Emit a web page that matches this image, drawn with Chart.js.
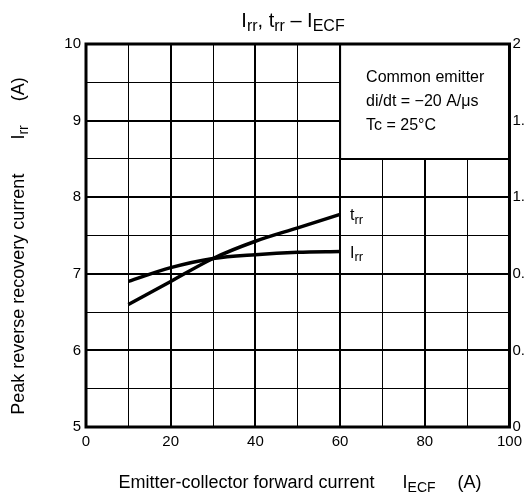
<!DOCTYPE html>
<html>
<head>
<meta charset="utf-8">
<script src="https://cdn.jsdelivr.net/npm/chart.js@4.4.1/dist/chart.umd.min.js"></script>
<style>
  html, body { margin: 0; padding: 0; background: #fff; }
  #wrap { width: 528px; height: 502px; position: relative; }
</style>
</head>
<body>
<div id="wrap"><canvas id="chart"></canvas></div>
<script>
// Irr, trr - IECF curves
const currents = [10, 20, 30, 40, 50, 60];          // IECF (A)
const irrValues = [6.9, 7.08, 7.2, 7.25, 7.28, 7.29]; // Irr (A), left axis
const trrValues = [0.64, 0.76, 0.88, 0.97, 1.04, 1.11]; // trr (us), right axis
const conditions = ['Common emitter', 'di/dt = \u221220 A/\u03bcs', 'Tc = 25\u00b0C'];

const FONT = 'Arial, "Liberation Sans", Helvetica, sans-serif';

// draws text pieces with subscripts, left aligned at baseline y; returns width
function drawRich(ctx, parts, x, y, size, measureOnly) {
    let cx = x;
    parts.forEach(p => {
        if (p.gap) { cx += p.gap; return; }
        const fs = p.sub ? Math.round(size * 0.8) : size;
        ctx.font = fs + 'px ' + FONT;
        if (!measureOnly) ctx.fillText(p.t, cx, p.sub ? y + size * 0.2 : y);
        cx += ctx.measureText(p.t).width;
    });
    return cx - x;
}

const overlay = {
    id: 'overlay',
    beforeDatasetsDraw(chart) {
        const { ctx, chartArea: a, scales: { x, y } } = chart;
        // condition box hides the grid in the top right corner
        const bx = x.getPixelForValue(60), by = y.getPixelForValue(8.5);
        ctx.save();
        ctx.fillStyle = '#fff';
        ctx.fillRect(bx, a.top, a.right - bx, by - a.top);
        ctx.strokeStyle = '#000';
        ctx.lineWidth = 2;
        ctx.beginPath();
        ctx.moveTo(bx, a.top);
        ctx.lineTo(bx, by);
        ctx.lineTo(a.right, by);
        ctx.stroke();
        ctx.fillStyle = '#000';
        ctx.font = '16px ' + FONT;
        ctx.textBaseline = 'middle';
        conditions.forEach((t, i) => ctx.fillText(t, bx + 26, a.top + 34 + i * 24));
        ctx.restore();
    },
    afterDraw(chart) {
        const { ctx, chartArea: a, scales: { x, y, y2 } } = chart;
        ctx.save();
        ctx.strokeStyle = '#000';
        ctx.lineWidth = 3;
        ctx.strokeRect(a.left, a.top, a.right - a.left, a.bottom - a.top);

        ctx.fillStyle = '#000';
        ctx.textBaseline = 'alphabetic';

        // curve labels
        const lx = x.getPixelForValue(60) + 10;
        drawRich(ctx, [{ t: 't' }, { t: 'rr', sub: true }], lx,
            y2.getPixelForValue(trrValues[trrValues.length - 1]) + 6, 16);
        drawRich(ctx, [{ t: 'I' }, { t: 'rr', sub: true }], lx,
            y.getPixelForValue(irrValues[irrValues.length - 1]) + 6, 16);

        // title
        const title = [{ t: 'I' }, { t: 'rr', sub: true }, { t: ', t' }, { t: 'rr', sub: true },
            { t: ' \u2013 I' }, { t: 'ECF', sub: true }];
        const tw = drawRich(ctx, title, 0, 0, 20, true);
        drawRich(ctx, title, 293 - tw / 2, 27, 20);

        // x axis title
        const xt = [{ t: 'Emitter-collector forward current' }, { gap: 28 }, { t: 'I' },
            { t: 'ECF', sub: true }, { gap: 22 }, { t: '(A)' }];
        const xw = drawRich(ctx, xt, 0, 0, 18, true);
        drawRich(ctx, xt, 300 - xw / 2, 488, 18);

        // y axis title
        const yt = [{ t: 'Peak reverse recovery current' }, { gap: 34 }, { t: 'I' },
            { t: 'rr', sub: true }, { gap: 24 }, { t: '(A)' }];
        const yw = drawRich(ctx, yt, 0, 0, 18, true);
        ctx.translate(24, 246 + yw / 2);
        ctx.rotate(-Math.PI / 2);
        drawRich(ctx, yt, 0, 0, 18);
        ctx.restore();
    }
};

const gridWidth = major => c => (Math.abs(c.tick.value % major) < 1e-6 ? 2 : 1);

new Chart(document.getElementById('chart'), {
    type: 'line',
    data: {
        datasets: [
            {
                label: 'trr',
                data: currents.map((c, i) => ({ x: c, y: trrValues[i] })),
                yAxisID: 'y2',
                borderColor: '#000',
                borderWidth: 3.5,
                pointRadius: 0,
                cubicInterpolationMode: 'monotone'
            },
            {
                label: 'Irr',
                data: currents.map((c, i) => ({ x: c, y: irrValues[i] })),
                yAxisID: 'y',
                borderColor: '#000',
                borderWidth: 3.5,
                pointRadius: 0,
                cubicInterpolationMode: 'monotone'
            }
        ]
    },
    options: {
        responsive: true,
        maintainAspectRatio: false,
        animation: false,
        layout: { padding: { top: 44, left: 0, right: 0, bottom: 0 } },
        plugins: { legend: { display: false }, title: { display: false }, tooltip: { enabled: false } },
        scales: {
            x: {
                type: 'linear', min: 0, max: 100,
                ticks: { stepSize: 10, color: '#000', padding: 6, font: { size: 15, family: FONT },
                    callback: v => (v % 20 === 0 ? v : '') },
                grid: { color: '#000', lineWidth: gridWidth(20), drawTicks: false },
                border: { display: false },
                afterFit: s => { s.height = 75; }
            },
            y: {
                min: 5, max: 10,
                ticks: { stepSize: 0.5, color: '#000', padding: 5, font: { size: 15, family: FONT },
                    callback: v => (Number.isInteger(v) ? v : '') },
                grid: { color: '#000', lineWidth: gridWidth(1), drawTicks: false },
                border: { display: false },
                afterFit: s => { s.width = 86; }
            },
            y2: {
                position: 'right', min: 0, max: 2,
                ticks: { stepSize: 0.4, color: '#000', padding: 3, font: { size: 15, family: FONT },
                    callback: v => +v.toFixed(1) },
                grid: { display: false, drawTicks: false },
                border: { display: false },
                afterFit: s => { s.width = 15; }
            }
        }
    },
    plugins: [overlay]
});
</script>
</body>
</html>
